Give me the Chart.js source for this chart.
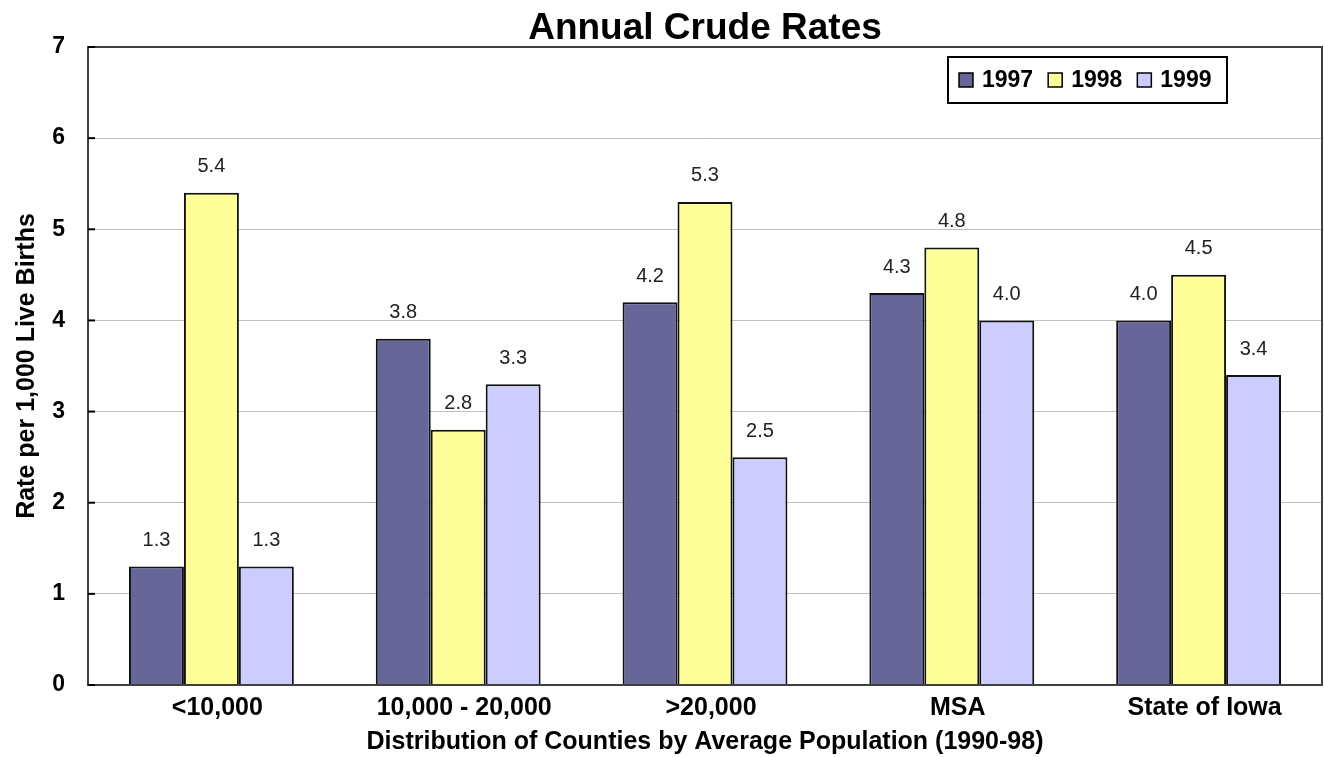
<!DOCTYPE html>
<html>
<head>
<meta charset="utf-8">
<title>Annual Crude Rates</title>
<script src="https://cdn.jsdelivr.net/npm/chart.js@4.4.1/dist/chart.umd.min.js"></script>
<style>
  html, body { margin: 0; padding: 0; background: #fff; }
  #wrap { width: 1325px; height: 757px; }
</style>
</head>
<body>
<div id="wrap"><canvas id="chart"></canvas></div>
<script>
/* Annual crude rates by county population group */

const CATEGORIES = ["<10,000", "10,000 - 20,000", ">20,000", "MSA", "State of Iowa"];
const YEARS = ["1997", "1998", "1999"];
const RATES_1997 = [1.3, 3.8, 4.2, 4.3, 4.0];
const RATES_1998 = [5.4, 2.8, 5.3, 4.8, 4.5];
const RATES_1999 = [1.3, 3.3, 2.5, 4.0, 3.4];
const Y_TICKS = [0, 1, 2, 3, 4, 5, 6, 7];

const FILLS = ["#666699", "#ffff99", "#ccccff"];
const FONT = "'Liberation Sans', Arial, sans-serif";

// ---- plugins ----
const plotBorder = {
  id: "plotBorder",
  afterDraw(chart) {
    const { ctx, chartArea: a } = chart;
    ctx.save();
    ctx.strokeStyle = "#404040";
    ctx.lineWidth = 2;
    ctx.strokeRect(a.left, a.top, a.right - a.left, a.bottom - a.top);
    // short tick marks inside the y axis
    ctx.strokeStyle = "#000";
    const ys = chart.scales.y;
    Y_TICKS.forEach(v => {
      const y = ys.getPixelForValue(v);
      ctx.beginPath();
      ctx.moveTo(a.left, y);
      ctx.lineTo(a.left + 7, y);
      ctx.stroke();
    });
    ctx.restore();
  }
};

const valueLabels = {
  id: "valueLabels",
  afterDatasetsDraw(chart) {
    const { ctx } = chart;
    ctx.save();
    ctx.font = "20px " + FONT;
    ctx.fillStyle = "#222";
    ctx.textAlign = "center";
    ctx.textBaseline = "middle";
    chart.data.datasets.forEach((ds, i) => {
      chart.getDatasetMeta(i).data.forEach((bar, j) => {
        ctx.fillText(ds.data[j].toFixed(1), bar.x, bar.y - 26);
      });
    });
    ctx.restore();
  }
};

const boxLegend = {
  id: "boxLegend",
  afterDraw(chart) {
    const { ctx, chartArea: a } = chart;
    const bx = a.right - 374, by = a.top + 10, bw = 279, bh = 46;
    ctx.save();
    ctx.fillStyle = "#fff";
    ctx.fillRect(bx, by, bw, bh);
    ctx.strokeStyle = "#000";
    ctx.lineWidth = 2;
    ctx.strokeRect(bx, by, bw, bh);
    ctx.font = "bold 23px " + FONT;
    ctx.textBaseline = "middle";
    let x = bx + 11;
    const cy = by + bh / 2;
    chart.data.datasets.forEach(ds => {
      ctx.fillStyle = ds.backgroundColor;
      ctx.fillRect(x, cy - 7, 14, 14);
      ctx.lineWidth = 1.5;
      ctx.strokeRect(x, cy - 7, 14, 14);
      x += 23;
      ctx.fillStyle = "#000";
      ctx.fillText(ds.label, x, cy + 1);
      x += ctx.measureText(ds.label).width + 15;
    });
    ctx.restore();
  }
};

// ---- chart ----
const series = [RATES_1997, RATES_1998, RATES_1999];

new Chart(document.getElementById("chart"), {
  type: "bar",
  data: {
    labels: CATEGORIES,
    datasets: YEARS.map((yr, i) => ({
      label: yr,
      data: series[i],
      backgroundColor: FILLS[i],
      borderColor: "#111",
      borderWidth: 2,
      categoryPercentage: 0.668,
      barPercentage: 1.0
    }))
  },
  options: {
    responsive: true,
    maintainAspectRatio: false,
    animation: false,
    layout: { padding: { top: 6, right: 3, left: 0, bottom: 0 } },
    plugins: {
      legend: { display: false },
      tooltip: { enabled: false },
      title: {
        display: true,
        fullSize: false,
        text: "Annual Crude Rates",
        color: "#000",
        font: { family: FONT, size: 37, weight: "bold", lineHeight: 1.0 },
        padding: { top: 4, bottom: 0 }
      }
    },
    scales: {
      x: {
        grid: { display: false, drawTicks: false },
        border: { color: "#000", width: 2 },
        ticks: {
          color: "#000",
          padding: 8,
          labelOffset: 6,
          maxRotation: 0,
          autoSkip: false,
          font: { family: FONT, size: 25, weight: "bold" }
        },
        title: {
          display: true,
          text: "Distribution of Counties by Average Population (1990-98)",
          color: "#000",
          font: { family: FONT, size: 25, weight: "bold" },
          padding: { top: 0, bottom: 0 }
        },
        afterFit: s => { s.height = 72; }
      },
      y: {
        min: 0,
        max: 7,
        afterBuildTicks: s => { s.ticks = Y_TICKS.map(v => ({ value: v })); },
        grid: { color: "#c0c0c0", lineWidth: 1, drawTicks: false },
        border: { color: "#000", width: 2 },
        ticks: {
          color: "#000",
          padding: 23,
          font: { family: FONT, size: 23, weight: "bold" }
        },
        title: {
          display: true,
          text: "Rate per 1,000 Live Births",
          color: "#000",
          font: { family: FONT, size: 25, weight: "bold" },
          padding: { top: 12, bottom: 0 }
        },
        afterFit: s => { s.width = 88; }
      }
    }
  },
  plugins: [plotBorder, valueLabels, boxLegend]
});
</script>
</body>
</html>
